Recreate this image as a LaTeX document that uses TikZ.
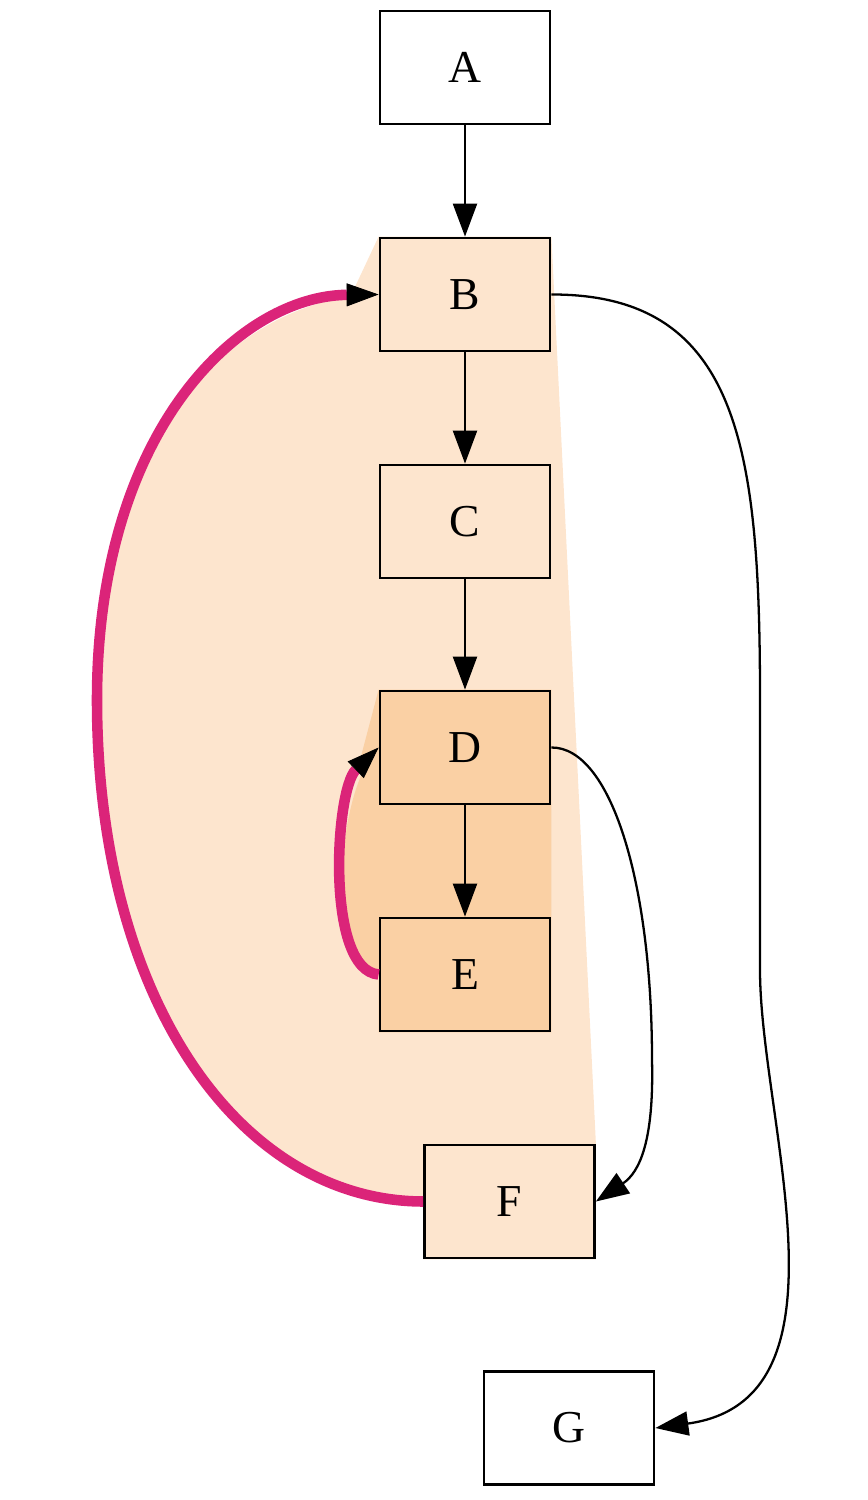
\documentclass[tikz,border=0pt]{standalone}
\usepackage{fontspec}
\setmainfont{Liberation Serif}
\usetikzlibrary{arrows.meta,backgrounds}
\definecolor{peach}{RGB}{253,229,206}
\definecolor{apricot}{RGB}{250,208,164}
\definecolor{loopmag}{RGB}{219,36,121}

\begin{document}
\begin{tikzpicture}[x=0.02cm,y=-0.02cm,>={Triangle[length=0.66cm,width=0.48cm]},
  box/.style={rectangle,draw,line width=1.6pt,minimum width=3.4cm,minimum height=2.26cm,inner sep=0pt,font=\fontsize{26}{30}\selectfont},
  edge/.style={->,line width=1.3pt},
  backedge/.style={-{Triangle[length=0.64cm,width=0.46cm,color=black,line width=0.5pt]},line width=6pt,loopmag}]
  \useasboundingbox (0,0) rectangle (868,1500);
  \node[box,fill=white] (A) at (465,67.5) {A};
  \node[box,fill=peach] (B) at (465,294.5) {B};
  \node[box,fill=peach] (C) at (465,521.5) {C};
  \node[box,fill=apricot] (D) at (465,747.5) {D};
  \node[box,fill=apricot] (E) at (465,974.5) {E};
  \node[box,fill=peach] (F) at (509.5,1201.5) {F};
  \node[box,fill=white] (G) at (569,1428) {G};
  % loop regions
  \begin{scope}[on background layer]
    \fill[peach] (B.north west) -- (354,289) -- (B.west) .. controls (240,296) and (97,430) .. (97,700)
      .. controls (97,1000) and (240,1201) .. (F.west) -- (F.south west) -- (F.south east) -- (F.north east) -- (B.north east) -- cycle;
    \fill[apricot] (D.north west) -- (359,764) -- (D.west) .. controls (335,790) and (325,970) .. (E.west)
      -- (E.south west) -- (E.south east) -- (D.north east) -- cycle;
  \end{scope}
  \draw[edge] (A) -- (B);
  \draw[edge] (B) -- (C);
  \draw[edge] (C) -- (D);
  \draw[edge] (D) -- (E);
  \draw[edge] (B.east) .. controls (740,294) and (760,450) .. (760,700) -- (760,970) .. controls (760,1120) and (860,1400) .. (G.east);
  \draw[edge] (D.east) .. controls (610,747) and (652,880) .. (652,1060) .. controls (654,1140) and (640,1172) .. (F.east);
  \draw[backedge] (F.west) .. controls (240,1201) and (97,1000) .. (97,700) .. controls (97,430) and (240,296) .. (B.west);
  \draw[backedge] (E.west) .. controls (325,970) and (335,790) .. (D.west);
\end{tikzpicture}
\end{document}
